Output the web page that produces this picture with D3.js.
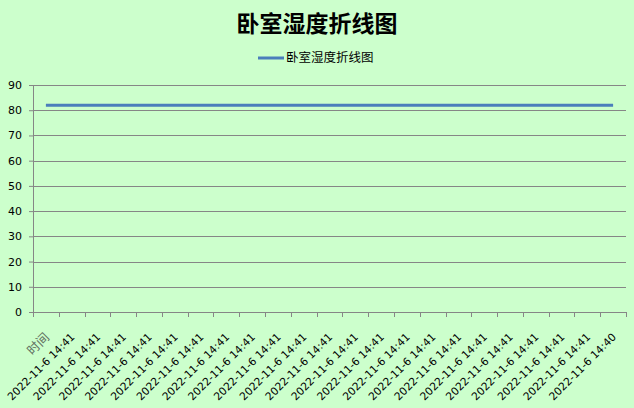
<!DOCTYPE html>
<html>
<head>
<meta charset="utf-8">
<script src="https://cdn.jsdelivr.net/npm/d3@7"></script>
<style>
  body { margin: 0; background: #ccffcc; }
  svg { display: block; }
</style>
</head>
<body>
<div id="chart"></div>
<script>
// data
var seriesName = "卧室湿度折线图";
var categories = ["时间"].concat(d3.range(21).map(function() { return "2022-11-6 14:41"; }), ["2022-11-6 14:40"]);
var humidity = [82, 82, 82, 82, 82, 82, 82, 82, 82, 82, 82, 82, 82, 82, 82, 82, 82, 82, 82, 82, 82, 82, 82];
var yTicks = [0, 10, 20, 30, 40, 50, 60, 70, 80, 90];

var svgWidth = 634;
var svgHeight = 408;
var margin = { top: 85, right: 8, bottom: 96, left: 33 };
var chartWidth = svgWidth - margin.left - margin.right;
var chartHeight = svgHeight - margin.top - margin.bottom;

var svg = d3.select("#chart")
  .append("svg")
  .attr("width", svgWidth)
  .attr("height", svgHeight);

svg.append("rect")
  .attr("width", svgWidth)
  .attr("height", svgHeight)
  .attr("fill", "#ccffcc");

// title
svg.append("text")
  .attr("x", 317)
  .attr("y", 32)
  .attr("text-anchor", "middle")
  .attr("font-family", "'Noto Sans CJK SC', sans-serif")
  .attr("font-weight", "bold")
  .attr("font-size", "23px")
  .attr("fill", "#000")
  .text(seriesName);

// legend
var legend = svg.append("g").attr("transform", "translate(258, 58)");
legend.append("line")
  .attr("x1", 0).attr("x2", 26)
  .attr("stroke", "#4a7ebb")
  .attr("stroke-width", 3);
legend.append("text")
  .attr("x", 28)
  .attr("dy", "0.35em")
  .attr("font-family", "'Noto Sans CJK SC', sans-serif")
  .attr("font-size", "12.5px")
  .attr("fill", "#000")
  .text(seriesName);

var chartGroup = svg.append("g")
  .attr("transform", `translate(${margin.left}, ${margin.top})`);

var x = d3.scaleBand()
  .domain(d3.range(categories.length))
  .range([0, chartWidth])
  .padding(0);

var y = d3.scaleLinear()
  .domain([0, 90])
  .range([chartHeight, 0]);

// gridlines
chartGroup.append("g")
  .selectAll("line")
  .data(yTicks.slice(1))
  .enter()
  .append("line")
  .attr("x1", 0)
  .attr("x2", chartWidth)
  .attr("y1", d => Math.round(y(d)) + 0.5)
  .attr("y2", d => Math.round(y(d)) + 0.5)
  .attr("stroke", "#868686")
  .attr("stroke-width", 1);

// y axis
var yAxis = d3.axisLeft(y).tickValues(yTicks).tickSize(4).tickPadding(7);
var yG = chartGroup.append("g").call(yAxis);
yG.select(".domain").attr("stroke", "#868686");
yG.selectAll(".tick line").attr("stroke", "#868686");
yG.selectAll(".tick text")
  .attr("font-family", "'DejaVu Sans', sans-serif")
  .attr("font-size", "11px")
  .attr("fill", "#000");

// x axis: ticks at category boundaries
var xG = chartGroup.append("g").attr("transform", `translate(0, ${chartHeight})`);
xG.append("line")
  .attr("x1", 0).attr("x2", chartWidth)
  .attr("y1", 0.5).attr("y2", 0.5)
  .attr("stroke", "#868686");
xG.selectAll(".xtick")
  .data(d3.range(categories.length + 1))
  .enter()
  .append("line")
  .attr("class", "xtick")
  .attr("x1", d => Math.round(d < categories.length ? x(d) : chartWidth) + 0.5)
  .attr("x2", d => Math.round(d < categories.length ? x(d) : chartWidth) + 0.5)
  .attr("y1", 0)
  .attr("y2", 5)
  .attr("stroke", "#868686");

xG.selectAll(".xlabel")
  .data(categories)
  .enter()
  .append("text")
  .attr("class", "xlabel")
  .attr("transform", (d, i) => `translate(${x(i) + x.bandwidth() / 2 + 1}, 23) rotate(-45)`)
  .attr("text-anchor", "end")
  .attr("dy", "0.35em")
  .attr("font-family", (d, i) => i === 0 ? "'Noto Sans CJK SC', sans-serif" : "'DejaVu Sans', sans-serif")
  .attr("font-size", (d, i) => i === 0 ? "12.5px" : "10.7px")
  .attr("fill", (d, i) => i === 0 ? "#5f6f5f" : "#000")
  .text(d => d);

// the line
var line = d3.line()
  .x((d, i) => x(i) + x.bandwidth() / 2)
  .y(d => y(d));

chartGroup.append("path")
  .datum(humidity)
  .attr("d", line)
  .attr("fill", "none")
  .attr("stroke", "#4a7ebb")
  .attr("stroke-width", 3);
</script>
</body>
</html>
